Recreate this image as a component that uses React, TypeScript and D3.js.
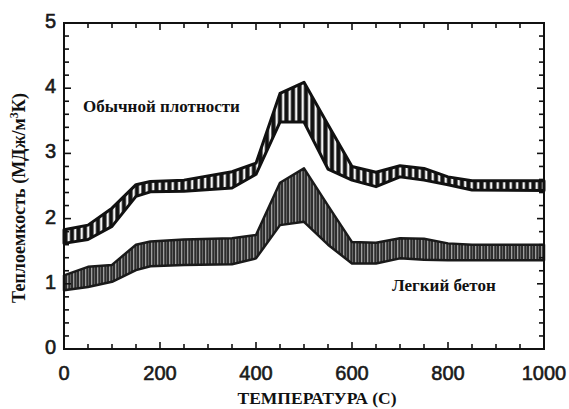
import { useEffect, useRef } from 'react'
import * as d3 from 'd3'

const W = 569
const H = 409

// temperature points, C
const temps = [0, 50, 100, 150, 180, 250, 350, 400, 450, 500, 550, 600, 650, 700, 750, 800, 850, 1000]
// normal density concrete band, MJ/m3K
const normalUpper = [1.83, 1.9, 2.16, 2.52, 2.57, 2.59, 2.72, 2.85, 3.92, 4.09, 3.44, 2.8, 2.71, 2.81, 2.77, 2.64, 2.58, 2.58]
const normalLower = [1.62, 1.68, 1.88, 2.34, 2.41, 2.42, 2.47, 2.68, 3.48, 3.48, 2.76, 2.59, 2.49, 2.64, 2.59, 2.52, 2.44, 2.43]
// lightweight concrete band
const lightUpper = [1.13, 1.26, 1.29, 1.6, 1.65, 1.68, 1.7, 1.75, 2.55, 2.77, 2.2, 1.64, 1.63, 1.7, 1.69, 1.62, 1.6, 1.6]
const lightLower = [0.9, 0.95, 1.03, 1.21, 1.27, 1.29, 1.3, 1.39, 1.9, 1.95, 1.6, 1.31, 1.31, 1.39, 1.37, 1.36, 1.36, 1.36]

const xTicks = [0, 200, 400, 600, 800, 1000]
const yTicks = [0, 1, 2, 3, 4, 5]

export default function App() {
  const svgRef = useRef<SVGSVGElement>(null)

  useEffect(() => {
    if (!svgRef.current) return
    const svg = d3.select(svgRef.current)
    svg.selectAll('*').remove()

    const m = { left: 64, right: 544, top: 23, bottom: 349 }
    const x = d3.scaleLinear().domain([0, 1000]).range([m.left, m.right])
    const y = d3.scaleLinear().domain([0, 5]).range([m.bottom, m.top])

    const defs = svg.append('defs')
    const pNormal = defs.append('pattern').attr('id', 'hatchNormal')
      .attr('patternUnits', 'userSpaceOnUse').attr('width', 6.5).attr('height', 10)
    pNormal.append('rect').attr('width', 6.5).attr('height', 10).attr('fill', '#111')
    pNormal.append('rect').attr('x', 2.5).attr('width', 2.4).attr('height', 10).attr('fill', '#f4f4f4')

    const pLight = defs.append('pattern').attr('id', 'hatchLight')
      .attr('patternUnits', 'userSpaceOnUse').attr('width', 6).attr('height', 10)
    pLight.append('rect').attr('width', 6).attr('height', 10).attr('fill', '#2e2e2e')
    pLight.append('rect').attr('x', 1).attr('width', 1.3).attr('height', 10).attr('fill', '#a0a0a0')
    pLight.append('rect').attr('x', 4).attr('width', 1).attr('height', 10).attr('fill', '#666')

    const band = (upper: number[], lower: number[]) =>
      d3.area<number>()
        .x((_, i) => x(temps[i]))
        .y0((_, i) => y(lower[i]))
        .y1((_, i) => y(upper[i]))
        .curve(d3.curveLinear)(temps) ?? ''

    svg.append('path').attr('d', band(normalUpper, normalLower))
      .attr('fill', 'url(#hatchNormal)').attr('stroke', '#111').attr('stroke-width', 3)
      .attr('stroke-linejoin', 'round')
    svg.append('path').attr('d', band(lightUpper, lightLower))
      .attr('fill', 'url(#hatchLight)').attr('stroke', '#1a1a1a').attr('stroke-width', 2.5)
      .attr('stroke-linejoin', 'round')

    // frame
    svg.append('rect').attr('x', m.left).attr('y', m.top)
      .attr('width', m.right - m.left).attr('height', m.bottom - m.top)
      .attr('fill', 'none').attr('stroke', '#111').attr('stroke-width', 2)

    const g = svg.append('g').attr('stroke', '#111').attr('stroke-width', 1.6)
    d3.range(50, 1000, 50).forEach((t) => {
      const len = t % 200 === 0 ? 7 : 5
      g.append('line').attr('x1', x(t)).attr('x2', x(t)).attr('y1', m.bottom).attr('y2', m.bottom - len)
      g.append('line').attr('x1', x(t)).attr('x2', x(t)).attr('y1', m.top).attr('y2', m.top + len)
    })
    d3.range(0.2, 5, 0.2).forEach((v) => {
      const len = Math.abs(v - Math.round(v)) < 0.01 ? 7 : 5
      g.append('line').attr('x1', m.left).attr('x2', m.left + len).attr('y1', y(v)).attr('y2', y(v))
      g.append('line').attr('x1', m.right).attr('x2', m.right - len).attr('y1', y(v)).attr('y2', y(v))
    })

    const num = svg.append('g').attr('font-family', '"Liberation Sans", Arial, sans-serif')
      .attr('font-size', 20).attr('fill', '#1a1a1a').attr('stroke', '#1a1a1a').attr('stroke-width', 0.6)
    yTicks.forEach((v) => {
      num.append('text').attr('x', 56).attr('y', y(v) - 2).attr('text-anchor', 'end')
        .attr('dominant-baseline', 'central').text(v)
    })
    xTicks.forEach((t) => {
      num.append('text').attr('x', x(t)).attr('y', 380).attr('text-anchor', 'middle').text(t)
    })

    const serif = '"Liberation Serif", "Times New Roman", serif'
    svg.append('text').attr('x', 317).attr('y', 404).attr('text-anchor', 'middle')
      .attr('font-family', serif).attr('font-weight', 'bold').attr('font-size', 17.5).attr('fill', '#111')
      .text('ТЕМПЕРАТУРА (С)')

    const yl = svg.append('text').attr('transform', 'translate(25,198) rotate(-90)')
      .attr('text-anchor', 'middle').attr('font-family', serif).attr('font-weight', 'bold')
      .attr('font-size', 18).attr('fill', '#111')
    yl.append('tspan').text('Теплоемкость (МДж/м')
    yl.append('tspan').attr('font-size', 12).attr('dy', -7).text('3')
    yl.append('tspan').attr('dy', 7).text('К)')

    svg.append('text').attr('x', 83).attr('y', 112)
      .attr('font-family', serif).attr('font-weight', 'bold').attr('font-size', 17).attr('fill', '#111')
      .text('Обычной плотности')
    svg.append('text').attr('x', 392).attr('y', 291)
      .attr('font-family', serif).attr('font-weight', 'bold').attr('font-size', 17).attr('fill', '#111')
      .text('Легкий бетон')
  }, [])

  return (
    <svg ref={svgRef} width={W} height={H}
      style={{ display: 'block', position: 'absolute', left: 0, top: 0, background: '#fff' }} />
  )
}
